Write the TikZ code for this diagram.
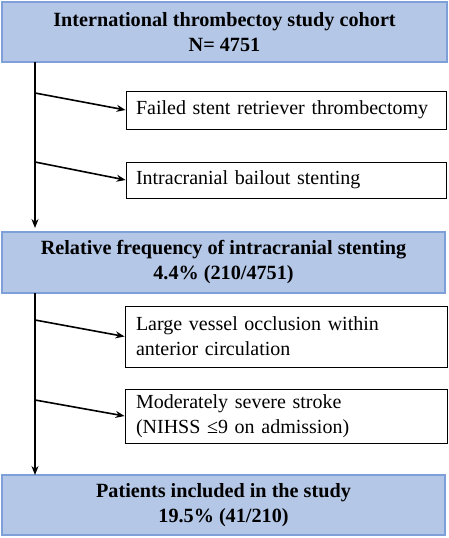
\documentclass[tikz,border=0pt]{standalone}
\usepackage{fontspec}
\setmainfont{Liberation Serif}
\usetikzlibrary{arrows.meta}
\definecolor{boxfill}{HTML}{B4C7E7}
\definecolor{boxline}{HTML}{7F9FD8}
\begin{document}
\begin{tikzpicture}[x=1pt,y=-1pt,
  mainbox/.style={draw=boxline, line width=1.3pt, fill=boxfill, rectangle, inner sep=0pt,
    align=center, font=\fontsize{20.2}{25}\selectfont\bfseries},
  sidebox/.style={draw=black, line width=0.9pt, fill=white, rectangle, inner sep=0pt,
    align=left, text width=300pt, font=\fontsize{20}{25}\selectfont},
  conn/.style={line width=1.6pt, -{Stealth[length=9pt,width=7pt]}}]
\useasboundingbox (0,0) rectangle (449,538);
\node[mainbox, minimum width=445pt, minimum height=60pt] (b1) at (224.5,32) {International thrombectoy study cohort\\N= 4751};
\node[mainbox, minimum width=443pt, minimum height=61pt] (b2) at (223.5,262.5) {Relative frequency of intracranial stenting\\4.4\% (210/4751)};
\node[mainbox, minimum width=443pt, minimum height=60pt] (b3) at (223.5,505) {Patients included in the study\\19.5\% (41/210)};
\node[sidebox, minimum width=320pt, minimum height=38pt] (s1) at (286,110) {Failed stent retriever thrombectomy};
\node[sidebox, minimum width=320pt, minimum height=36pt] (s2) at (286,180) {Intracranial bailout stenting};
\node[sidebox, minimum width=322pt, minimum height=61pt] (s3) at (286,336.5) {Large vessel occlusion within\\anterior circulation};
\node[sidebox, minimum width=322pt, minimum height=54pt] (s4) at (286,416) {Moderately severe stroke\\(NIHSS ≤9 on admission)};
\coordinate (t1) at (35,62);
\coordinate (a1) at (35,228);
\coordinate (j1) at (35,93);
\coordinate (j2) at (35,162);
\coordinate (t2) at (35,293);
\coordinate (a2) at (35,475);
\coordinate (j3) at (35,320);
\coordinate (j4) at (35,400);
\draw[conn] (t1) -- (a1);
\draw[conn] (j1) -- (s1.west);
\draw[conn] (j2) -- (s2.west);
\draw[conn] (t2) -- (a2);
\draw[conn] (j3) -- (s3.west);
\draw[conn] (j4) -- (s4.west);
\end{tikzpicture}
\end{document}
